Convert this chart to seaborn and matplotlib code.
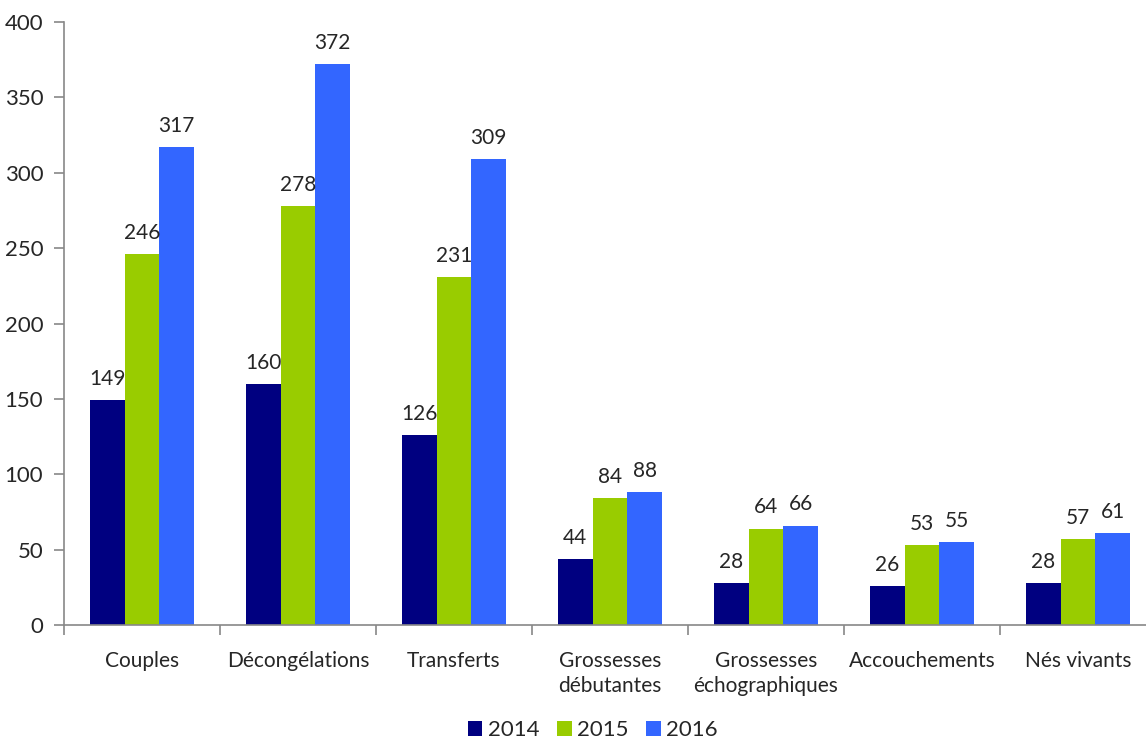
import matplotlib
matplotlib.use("Agg")
import matplotlib.pyplot as plt
import seaborn as sns
import pandas as pd
from matplotlib.ticker import FixedLocator

categories = ["Couples", "Décongélations", "Transferts", "Grossesses\ndébutantes",
              "Grossesses\néchographiques", "Accouchements", "Nés vivants"]
years = ["2014", "2015", "2016"]
v2014 = [149, 160, 126, 44, 28, 26, 28]
v2015 = [246, 278, 231, 84, 64, 53, 57]
v2016 = [317, 372, 309, 88, 66, 55, 61]
colors = ["#000080", "#99CC00", "#3366FF"]

rows = []
for yr, vals in zip(years, [v2014, v2015, v2016]):
    for c, v in zip(categories, vals):
        rows.append({"cat": c, "year": yr, "value": v})
df = pd.DataFrame(rows)

sns.set_style("white")
plt.rcParams["font.family"] = ["Lato", "DejaVu Sans"]
text_color = "#262626"
fs = 15

fig = plt.figure(figsize=(11.46, 7.38), dpi=100)
ax = fig.add_axes([64/1146, 1-625/738, (1156-64)/1146, (625-22)/738])

sns.barplot(data=df, x="cat", y="value", hue="year", palette=colors,
            width=0.667, gap=0, saturation=1, ax=ax, legend=True, errorbar=None,
            linewidth=0, edgecolor="none")

for cont in ax.containers:
    ax.bar_label(cont, padding=8, fontsize=fs, color=text_color)

ax.set_xlim(-0.5, len(categories) - 0.5)
ax.set_ylim(0, 400)
ax.set_yticks(range(0, 401, 50))
ax.set_xlabel("")
ax.set_ylabel("")

for s in ["top", "right"]:
    ax.spines[s].set_visible(False)
for s in ["left", "bottom"]:
    ax.spines[s].set_color("#888888")
    ax.spines[s].set_linewidth(1.2)

ax.tick_params(axis="y", left=True, length=7, width=1.2, color="#888888",
               labelsize=fs + 1, labelcolor=text_color, pad=8)
ax.set_xticks(range(len(categories)))
ax.set_xticklabels(categories, linespacing=1.35)
ax.tick_params(axis="x", which="major", bottom=False, labelsize=fs,
               labelcolor=text_color, pad=15)
ax.xaxis.set_minor_locator(FixedLocator([i - 0.5 for i in range(len(categories) + 1)]))
ax.tick_params(axis="x", which="minor", bottom=True, length=7, width=1.2, color="#888888")

handles, labels = ax.get_legend_handles_labels()
ax.get_legend().remove()
fig.legend(handles, labels, loc="lower center", bbox_to_anchor=(593/1146, -0.03),
           ncol=3, frameon=False, fontsize=fs + 1, handlelength=0.65, handleheight=0.65,
           handletextpad=0.25, columnspacing=0.8, labelcolor=text_color)

fig.savefig("out.png", dpi=100)
